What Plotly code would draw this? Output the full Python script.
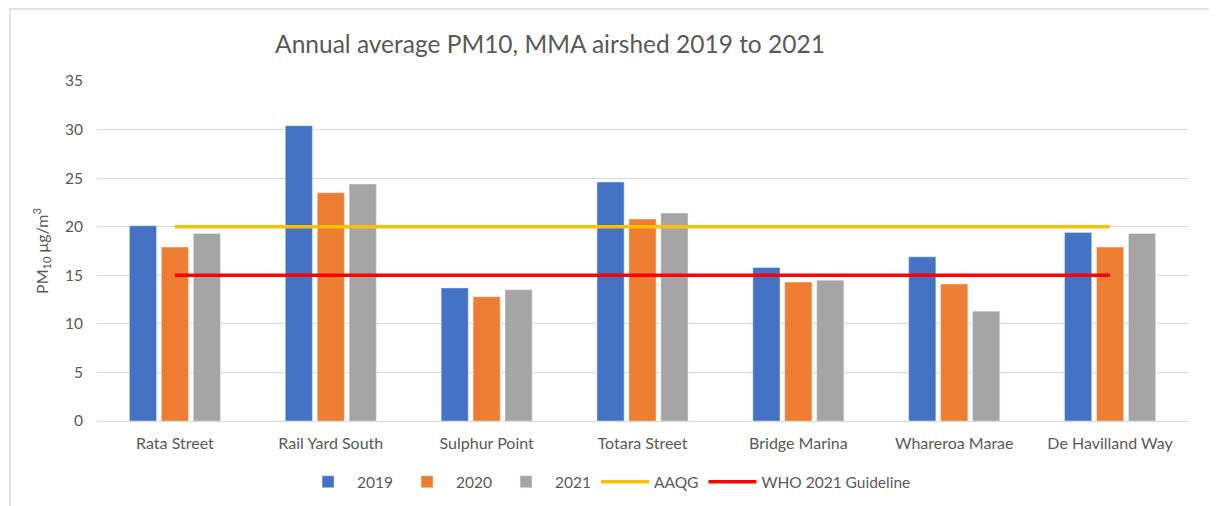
import plotly.graph_objects as go

categories = ["Rata Street", "Rail Yard South", "Sulphur Point", "Totara Street",
              "Bridge Marina", "Whareroa Marae", "De Havilland Way"]
y2019 = [20.1, 30.4, 13.7, 24.6, 15.8, 16.9, 19.4]
y2020 = [17.9, 23.5, 12.8, 20.8, 14.3, 14.1, 17.9]
y2021 = [19.3, 24.4, 13.5, 21.4, 14.5, 11.3, 19.3]
aaqg = [20] * len(categories)
who = [15] * len(categories)

FONT = "Lato, Carlito, Calibri, sans-serif"
GREY = "#595959"

W, H = 1209, 498
L, R, T, B = 89, 29, 73, 85
PW, PH = W - L - R, H - T - B

fig = go.Figure()
fig.add_bar(x=categories, y=y2019, name="2019", marker_color="#4472C4")
fig.add_bar(x=categories, y=y2020, name="2020", marker_color="#ED7D31")
fig.add_bar(x=categories, y=y2021, name="2021", marker_color="#A5A5A5")
fig.add_scatter(x=categories, y=aaqg, name="AAQG", mode="lines",
                line=dict(color="#FFC000", width=3.5))
fig.add_scatter(x=categories, y=who, name="WHO 2021 Guideline", mode="lines",
                line=dict(color="#FF0000", width=3.5))

fig.update_layout(
    width=W, height=H,
    margin=dict(l=L, r=R, t=T, b=B, autoexpand=False),
    paper_bgcolor="white", plot_bgcolor="white",
    font=dict(family=FONT, color=GREY, size=15.5),
    barmode="group", bargap=0.385, bargroupgap=0.15,
    title=dict(text="Annual average PM10, MMA airshed 2019 to 2021",
               x=542 / W, xref="container", xanchor="center",
               y=1 - 36 / H, yref="container", yanchor="middle",
               font=dict(size=24.5, color=GREY, family=FONT)),
    legend=dict(orientation="h", x=0.468, xanchor="center", y=-0.18, yanchor="middle",
                font=dict(size=15.5, color=GREY), traceorder="normal",
                itemwidth=48),
    showlegend=True,
)
fig.update_xaxes(showgrid=False, showline=True, linecolor="#D9D9D9", linewidth=1,
                 ticks="", ticklabelstandoff=8, tickfont=dict(size=16, color=GREY),
                 automargin=False)
fig.update_yaxes(range=[0, 35], dtick=5, showgrid=True, gridcolor="#D9D9D9", gridwidth=1,
                 zeroline=False, showline=False, ticks="", ticklabelstandoff=13,
                 tickfont=dict(size=15.5, color=GREY), automargin=False,
                 title=dict(text="PM<sub>10</sub> μg/m<sup>3</sup>", font=dict(size=16, color=GREY),
                            standoff=12))
fig.add_shape(type="rect", xref="paper", yref="paper",
              x0=(2 - L) / PW, x1=(1202 - L) / PW,
              y0=(T + PH - (H + 20)) / PH, y1=(T + PH - 1) / PH,
              line=dict(color="#D9D9D9", width=1.5), fillcolor="rgba(0,0,0,0)", layer="below")

fig.write_html("out.html")
